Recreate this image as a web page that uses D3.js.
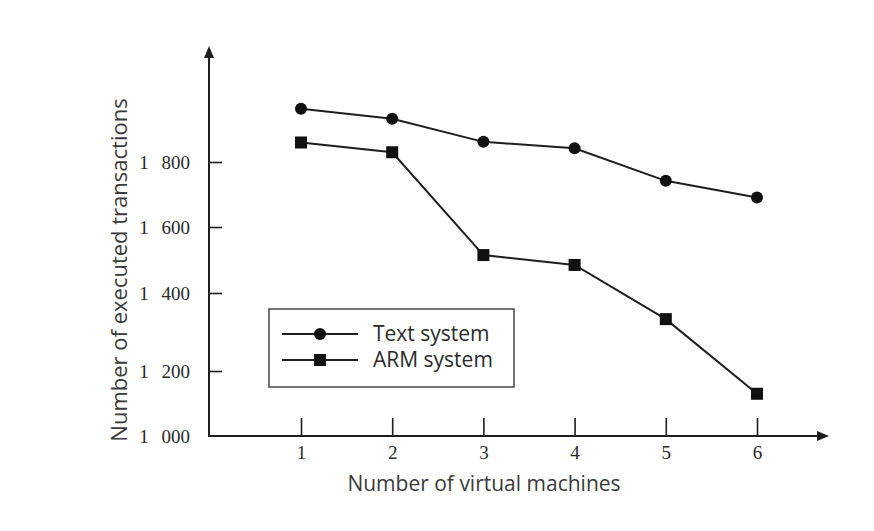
<!DOCTYPE html>
<html>
<head>
<meta charset="utf-8">
<script src="https://cdn.jsdelivr.net/npm/d3@7"></script>
<style>
  html, body { margin: 0; padding: 0; background: #fff; }
  svg { display: block; }
  .tick-y text, .tick-x text { font-family: "Liberation Serif", "DejaVu Serif", serif; font-size: 19px; fill: #2a2a2a; }
  .tick-y text { word-spacing: 8px; }
  .title { font-family: "Open Sans", "Noto Sans", sans-serif; font-size: 21px; fill: #3a3a3a; }
  .ytitle { font-size: 22px; }
  .leg { font-family: "Open Sans", "Noto Sans", sans-serif; font-size: 21px; fill: #2a2a2a; }
</style>
</head>
<body>
<script>
// ---- data ----
const machines = [1, 2, 3, 4, 5, 6];
const textSystem = [1964, 1933, 1862, 1842, 1742, 1691];
const armSystem = [1860, 1830, 1515, 1485, 1333, 1130];
const yTicks = [1000, 1200, 1400, 1600, 1800];
const yTickLabels = ["1 000", "1 200", "1 400", "1 600", "1 800"];
const seriesNames = ["Text system", "ARM system"];
const xTitle = "Number of virtual machines";
const yTitle = "Number of executed transactions";

const W = 874, H = 531;
const svg = d3.select("body").append("svg").attr("width", W).attr("height", H);

const axisX0 = 209, axisY0 = 436;
const x = d3.scaleLinear().domain([1, 6]).range([301, 757]);
// the original axis spaces its ticks unevenly; piecewise-linear scale
const y = d3.scaleLinear().domain(yTicks).range([436, 371, 293, 227, 162]);

const ink = "#1e1e1e";

// y axis ticks (inward)
const yAxis = d3.axisLeft(y).tickValues(yTicks)
  .tickFormat((d, i) => yTickLabels[i]).tickSize(-13).tickPadding(19);
const gy = svg.append("g").attr("class", "tick-y").attr("transform", `translate(${axisX0},0)`).call(yAxis);
gy.select(".domain").remove();
gy.selectAll("line").attr("stroke", ink).attr("stroke-width", 1.6);
gy.selectAll(".tick").filter(d => d === 1000).select("line").remove();

// x axis ticks (inward)
const xAxis = d3.axisBottom(x).tickValues(machines).tickFormat(d3.format("d")).tickSize(-18).tickPadding(10);
const gx = svg.append("g").attr("class", "tick-x").attr("transform", `translate(0,${axisY0})`).call(xAxis);
gx.select(".domain").remove();
gx.selectAll("line").attr("stroke", ink).attr("stroke-width", 1.6);

// axis lines with arrows
svg.append("line").attr("x1", axisX0).attr("y1", axisY0).attr("x2", axisX0).attr("y2", 52)
  .attr("stroke", ink).attr("stroke-width", 2);
svg.append("path").attr("d", `M${axisX0},46 L${axisX0 - 5},58 L${axisX0 + 5},58 Z`).attr("fill", ink);
svg.append("line").attr("x1", axisX0 - 1).attr("y1", axisY0).attr("x2", 822).attr("y2", axisY0)
  .attr("stroke", ink).attr("stroke-width", 2);
svg.append("path").attr("d", `M829,${axisY0} L817,${axisY0 - 5} L817,${axisY0 + 5} Z`).attr("fill", ink);

// titles
svg.append("text").attr("class", "title").attr("x", 484).attr("y", 491)
  .attr("text-anchor", "middle").text(xTitle);
svg.append("text").attr("class", "title ytitle")
  .attr("transform", `translate(127,270) rotate(-90)`)
  .attr("text-anchor", "middle").text(yTitle);

// series
const line = d3.line().x((d, i) => x(machines[i])).y(d => y(d));
svg.append("path").datum(textSystem).attr("d", line).attr("fill", "none").attr("stroke", ink).attr("stroke-width", 2);
svg.append("path").datum(armSystem).attr("d", line).attr("fill", "none").attr("stroke", ink).attr("stroke-width", 2);

svg.append("g").selectAll("circle").data(textSystem).join("circle")
  .attr("cx", (d, i) => x(machines[i])).attr("cy", d => y(d)).attr("r", 6).attr("fill", "#111");
svg.append("g").selectAll("rect").data(armSystem).join("rect")
  .attr("x", (d, i) => x(machines[i]) - 6).attr("y", d => y(d) - 6)
  .attr("width", 12).attr("height", 12).attr("fill", "#111");

// legend
const lg = svg.append("g");
lg.append("rect").attr("x", 269).attr("y", 309).attr("width", 245).attr("height", 78)
  .attr("fill", "#fff").attr("stroke", "#444").attr("stroke-width", 1.5);
seriesNames.forEach((name, i) => {
  const ly = 334 + i * 26;
  lg.append("line").attr("x1", 282).attr("x2", 358).attr("y1", ly).attr("y2", ly)
    .attr("stroke", ink).attr("stroke-width", 2);
  if (i === 0) lg.append("circle").attr("cx", 320).attr("cy", ly).attr("r", 6).attr("fill", "#111");
  else lg.append("rect").attr("x", 314).attr("y", ly - 6).attr("width", 12).attr("height", 12).attr("fill", "#111");
  lg.append("text").attr("class", "leg").attr("x", 373).attr("y", ly).attr("dy", "0.35em").text(name);
});
</script>
</body>
</html>
